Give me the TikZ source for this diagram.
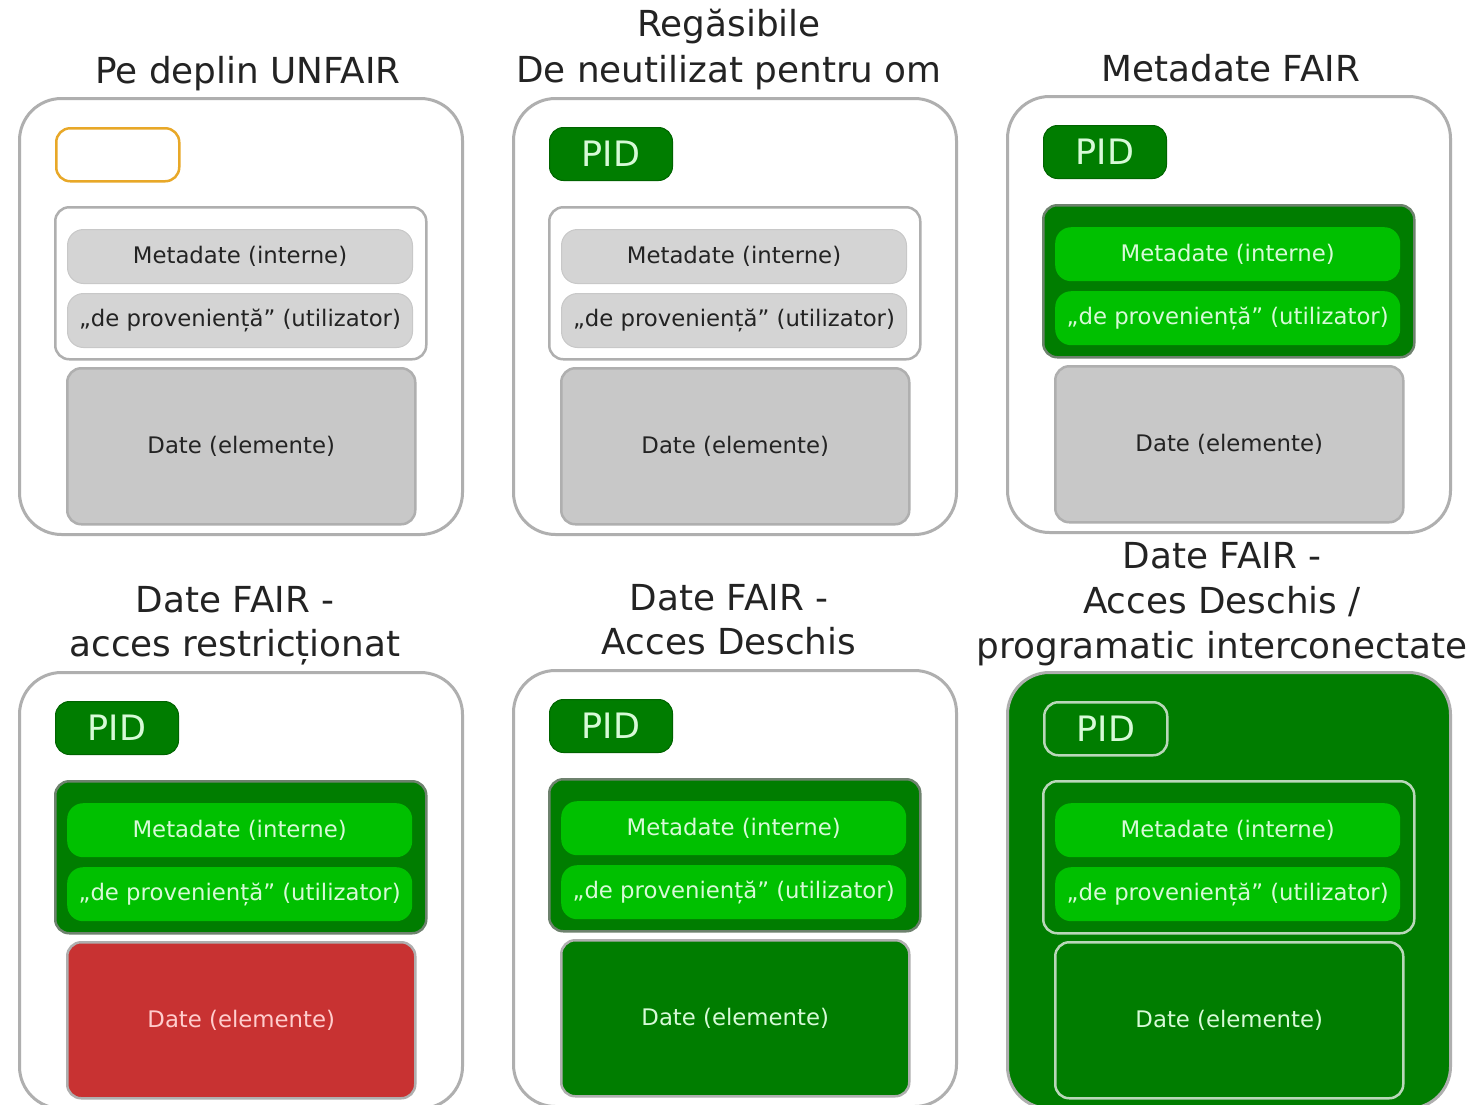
\documentclass[tikz,border=0pt]{standalone}
\usepackage{fontspec}
\setmainfont{DejaVu Sans}
\definecolor{fgreen}{RGB}{0,125,0}
\definecolor{lgreen}{RGB}{0,192,0}
\definecolor{ltext}{RGB}{215,250,215}
\definecolor{rowgray}{RGB}{212,212,212}
\definecolor{dategray}{RGB}{200,200,200}
\definecolor{edgegray}{RGB}{175,175,175}
\definecolor{rowedge}{RGB}{200,200,200}
\definecolor{darkedge}{RGB}{110,130,110}
\definecolor{paleedge}{RGB}{185,215,185}
\definecolor{fred}{RGB}{200,50,50}
\definecolor{ptext}{RGB}{255,205,205}
\definecolor{pidorange}{RGB}{232,168,40}
\definecolor{inktext}{RGB}{35,35,35}
\tikzset{
  x=1pt, y=-1pt,
  box/.style={rectangle, rounded corners=14pt, inner sep=0pt, anchor=north west},
  outerbox/.style={box, rounded corners=42pt, minimum width=443pt, minimum height=436pt,
    draw=edgegray, line width=3pt, fill=white},
  pidbox/.style={box, minimum width=123pt, minimum height=53pt,
    font=\fontsize{35}{40}\selectfont},
  metabox/.style={box, minimum width=371pt, minimum height=152pt, line width=2.5pt},
  rowbox/.style={box, rounded corners=16pt, minimum width=345pt, minimum height=54pt,
    font=\fontsize{22.8}{26}\selectfont},
  datebox/.style={box, minimum width=348pt, minimum height=156pt, line width=2.5pt,
    font=\fontsize{22.8}{26}\selectfont},
  title/.style={anchor=base, inner sep=0pt, text=inktext, font=\fontsize{35.8}{42}\selectfont},
  % colour schemes
  pidempty/.style={draw=pidorange, line width=2.5pt, fill=white},
  pidgreen/.style={fill=fgreen, draw=fgreen!80!black, line width=1pt, text=ltext},
  pidline/.style={draw=paleedge, line width=2.5pt, text=ltext},
  metawhite/.style={draw=edgegray, fill=white},
  metagreen/.style={draw=darkedge, fill=fgreen},
  metaline/.style={draw=paleedge},
  rowgrey/.style={fill=rowgray, draw=rowedge, line width=1pt, text=inktext},
  rowgreen/.style={fill=lgreen, text=ltext},
  dategrey/.style={fill=dategray, draw=edgegray, text=inktext},
  datered/.style={fill=fred, draw=edgegray, text=ptext},
  dategreen/.style={fill=fgreen, draw=edgegray, text=ltext},
  dateline/.style={draw=paleedge, text=ltext},
}
% one panel: prefix, x, y, frame style, PID style, PID text, metadata style, row style, data style
\newcommand\fairpanel[9]{%
  \begin{scope}[shift={(#2,#3)}]
    \node[outerbox,#4] (#1-frame) at (0,0) {};
    \node[pidbox,#5] (#1-pid) at (37,30) {#6};
    \node[metabox,#7] (#1-meta) at (36,109) {};
    \node[rowbox,#8] (#1-int) at (49,132) {Metadate (interne)};
    \node[rowbox,#8] (#1-prov) at (49,196) {„de proveniență” (utilizator)};
    \node[datebox,#9] (#1-data) at (48,270) {Date (elemente)};
  \end{scope}}
\begin{document}
\begin{tikzpicture}
\useasboundingbox (0,0) rectangle (1484,1104);
\fill[white] (0,0) rectangle (1484,1104);

% top row
\fairpanel{pa}{18}{97}{}{pidempty}{}{metawhite}{rowgrey}{dategrey}
\fairpanel{pb}{512}{97}{}{pidgreen}{PID}{metawhite}{rowgrey}{dategrey}
\fairpanel{pc}{1006}{95}{}{pidgreen}{PID}{metagreen}{rowgreen}{dategrey}
% bottom row
\fairpanel{pd}{18}{671}{}{pidgreen}{PID}{metagreen}{rowgreen}{datered}
\fairpanel{pe}{512}{669}{}{pidgreen}{PID}{metagreen}{rowgreen}{dategreen}
\fairpanel{pf}{1006}{671}{fill=fgreen}{pidline}{PID}{metaline}{rowgreen}{dateline}

% captions
\node[title] (ta) at (248,83) {Pe deplin UNFAIR};
\node[title] (tb1) at (729,36) {Regăsibile};
\node[title] (tb2) at (729,82) {De neutilizat pentru om};
\node[title] (tc) at (1231,81) {Metadate FAIR};
\node[title] (td1) at (235,612) {Date FAIR -};
\node[title] (td2) at (235,656) {acces restricționat};
\node[title] (te1) at (729,610) {Date FAIR -};
\node[title] (te2) at (729,654) {Acces Deschis};
\node[title] (tf1) at (1222,568) {Date FAIR -};
\node[title] (tf2) at (1222,613) {Acces Deschis /};
\node[title] (tf3) at (1222,658) {programatic interconectate};
\end{tikzpicture}
\end{document}
